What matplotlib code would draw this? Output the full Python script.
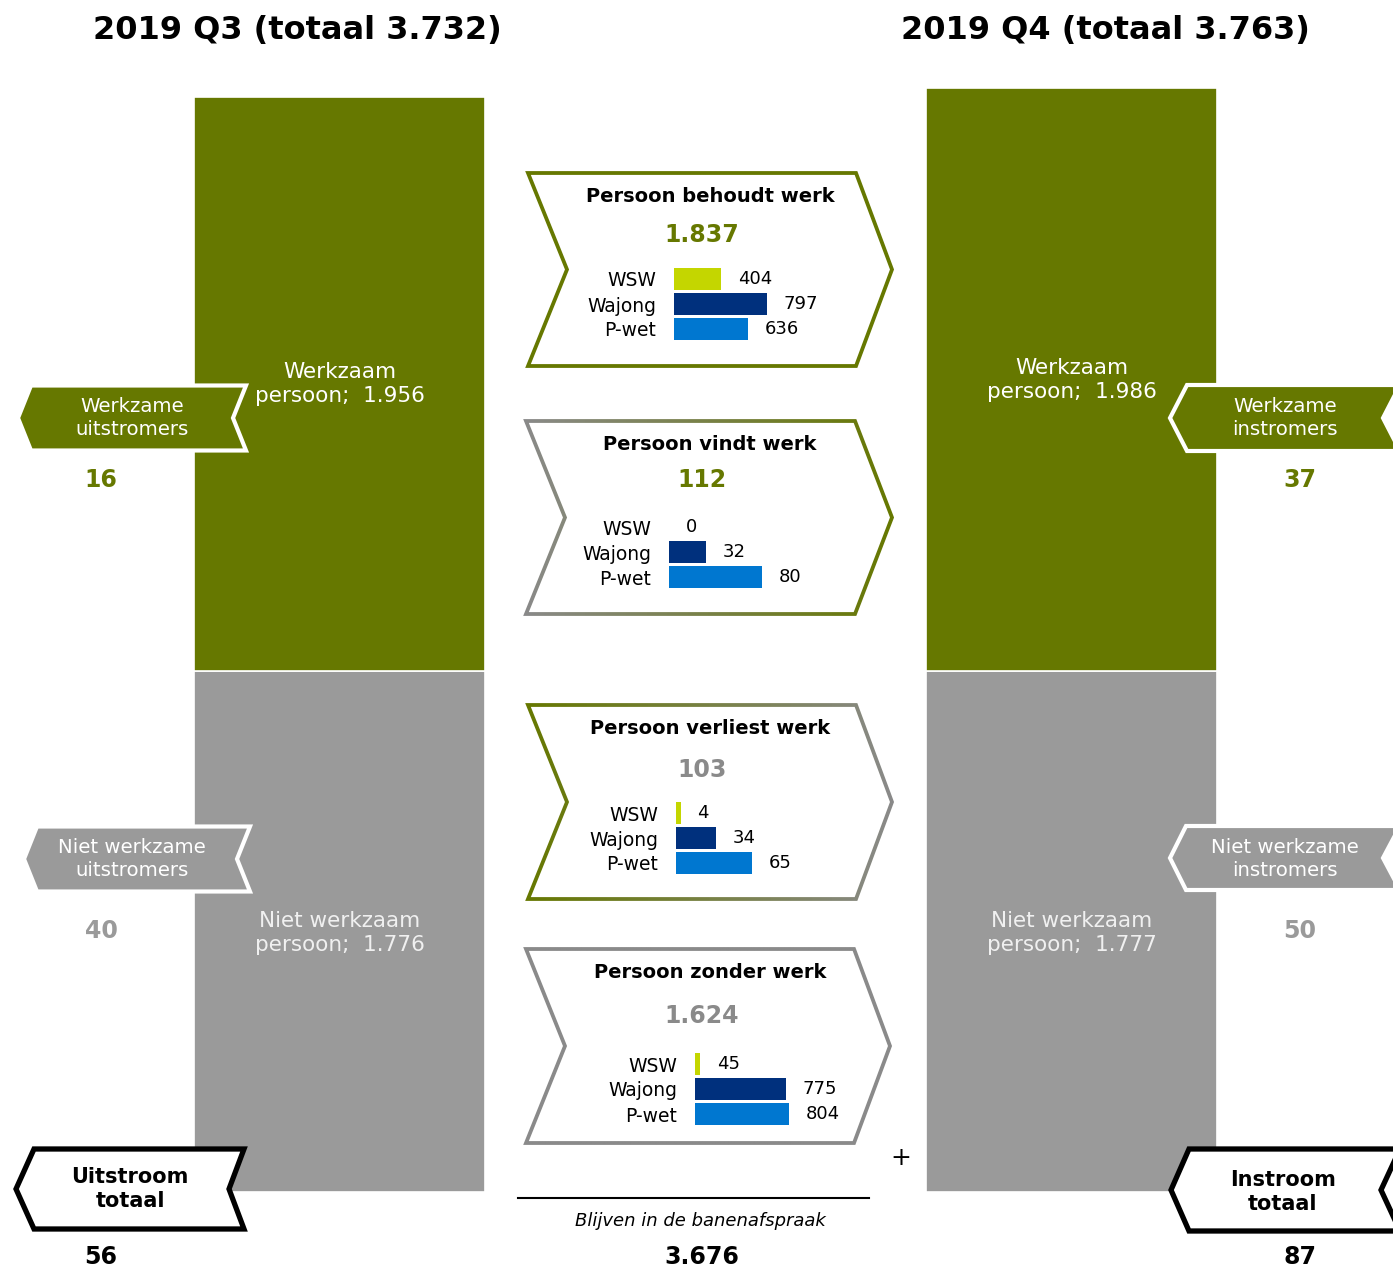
import numpy as np
import matplotlib.pyplot as plt
from matplotlib.patches import Polygon, PathPatch
from matplotlib.path import Path
from matplotlib.colors import LinearSegmentedColormap

# ---- data ----
quarters = ['2019 Q3', '2019 Q4']
totals = [3732, 3763]
werkzaam = [1956, 1986]
niet_werkzaam = [1776, 1777]

flow_titles = ['Persoon behoudt werk', 'Persoon vindt werk',
               'Persoon verliest werk', 'Persoon zonder werk']
flow_totals = [1837, 112, 103, 1624]
regelingen = ['WSW', 'Wajong', 'P-wet']
behoudt = [404, 797, 636]
vindt = [0, 32, 80]
verliest = [4, 34, 65]
zonder = [45, 775, 804]
flow_values = [behoudt, vindt, verliest, zonder]

uit_labels = ['Werkzame\nuitstromers', 'Niet werkzame\nuitstromers']
uit_values = [16, 40]
in_labels = ['Werkzame\ninstromers', 'Niet werkzame\ninstromers']
in_values = [37, 50]
uitstroom_totaal = 56
instroom_totaal = 87
blijven = 3676

# ---- style ----
green = '#667800'
gray = '#9a9a9a'
gray_line = '#8a8a8a'
bar_colors = ['#c4d600', '#00307d', '#0077d0']

W, H = 1393, 1269


def nl(v):
    return f"{v:,}".replace(',', '.')


def offset_poly(pts, d):
    P = np.array(pts, float)
    n = len(P)
    area = 0.5 * np.sum(P[:, 0] * np.roll(P[:, 1], -1) - np.roll(P[:, 0], -1) * P[:, 1])
    s = 1 if area > 0 else -1
    out = []
    for i in range(n):
        p0, p1, p2 = P[i - 1], P[i], P[(i + 1) % n]
        e1, e2 = p1 - p0, p2 - p1
        n1 = s * np.array([e1[1], -e1[0]]) / np.hypot(*e1)
        n2 = s * np.array([e2[1], -e2[0]]) / np.hypot(*e2)
        A = np.array([e1, -e2]).T
        t = np.linalg.solve(A, (p1 + n2 * d) - (p0 + n1 * d))[0]
        out.append(p0 + n1 * d + t * e1)
    return np.array(out)


def grad_outline(ax, pts, c0, c1, width):
    outer = offset_poly(pts, width / 2)
    inner = offset_poly(pts, -width / 2)[::-1]
    verts = np.vstack([outer, outer[:1], inner, inner[:1]])
    codes = ([Path.MOVETO] + [Path.LINETO] * (len(outer) - 1) + [Path.CLOSEPOLY]) * 2
    ring = PathPatch(Path(verts, codes), transform=ax.transData, facecolor='none',
                     edgecolor='none')
    ax.add_patch(ring)
    x0, x1 = outer[:, 0].min(), outer[:, 0].max()
    y0, y1 = outer[:, 1].min(), outer[:, 1].max()
    cmap = LinearSegmentedColormap.from_list('edge', [c0, c1])
    im = ax.imshow(np.linspace(0, 1, 256).reshape(1, -1), cmap=cmap, aspect='auto',
                   extent=(x0, x1, y1, y0), interpolation='bilinear', zorder=3)
    im.set_clip_path(ring)


def side_arrow(ax, tip, body, right, notch, yc, half, face, edge, lw):
    pts = [(tip, yc), (body, yc - half), (right, yc - half), (notch, yc),
           (right, yc + half), (body, yc + half)]
    ax.add_patch(Polygon(pts, closed=True, facecolor=face, edgecolor=edge,
                         linewidth=lw, joinstyle='miter', zorder=2))


fig = plt.figure(figsize=(W / 100, H / 100), dpi=100)

# ---- big stacked bars ----
base = 1192
scale = 0.2934
axb = fig.add_axes([0, (H - base) / H, 1, base / H])
axb.set_xlim(0, W)
axb.set_ylim(0, base / scale)
axb.axis('off')
x_q = [339.5, 1071.5]
axb.bar(x_q, niet_werkzaam, width=291, color=gray, edgecolor='white', linewidth=1.2)
axb.bar(x_q, werkzaam, bottom=niet_werkzaam, width=291, color=green,
        edgecolor='white', linewidth=1.2)

# ---- overlay in pixel coordinates ----
ax = fig.add_axes([0, 0, 1, 1], zorder=2)
ax.axis('off')

# titles
for q, tot, xc in zip(quarters, totals, [297, 1105]):
    ax.text(xc, 30, f'{q} (totaal {nl(tot)})', ha='center', va='center',
            fontsize=23, fontweight='bold')

# text inside big bars
for xc, w, nw, yw in zip(x_q, werkzaam, niet_werkzaam, [384, 380]):
    ax.text(xc, yw, f'Werkzaam\npersoon;  {nl(w)}', ha='center', va='center',
            fontsize=15.5, color='white', linespacing=1.3)
    ax.text(xc, 933, f'Niet werkzaam\npersoon;  {nl(nw)}', ha='center', va='center',
            fontsize=15.5, color='#f0f0f0', linespacing=1.3)

# side arrows
side_arrow(ax, 18, 31, 246, 233, 418, 32.5, green, 'white', 3)
side_arrow(ax, 24, 37, 250, 237, 859, 32.5, gray, 'white', 3)
side_arrow(ax, 1170, 1187, 1400, 1383, 418, 33, green, 'white', 3)
side_arrow(ax, 1170, 1186, 1400, 1383, 858, 32, gray, 'white', 3)
side_arrow(ax, 16, 34, 244, 229, 1189, 40, 'white', 'black', 3.8)
side_arrow(ax, 1171, 1189, 1400, 1381, 1190, 41, 'white', 'black', 3.8)

for lab, v, yc, yv, c in zip(uit_labels, uit_values, [418, 859], [480, 931], [green, gray]):
    ax.text(132, yc, lab, ha='center', va='center', fontsize=14.2, color='white',
            linespacing=1.3, zorder=4)
    ax.text(101, yv, str(v), ha='center', va='center', fontsize=17,
            fontweight='bold', color=c)
for lab, v, yc, yv, c in zip(in_labels, in_values, [418, 859], [480, 931], [green, gray]):
    ax.text(1285, yc, lab, ha='center', va='center', fontsize=14.2, color='white',
            linespacing=1.3, zorder=4)
    ax.text(1300, yv, str(v), ha='center', va='center', fontsize=17,
            fontweight='bold', color=c)

ax.text(130, 1189, 'Uitstroom\ntotaal', ha='center', va='center', fontsize=15,
        fontweight='bold', linespacing=1.25, zorder=4)
ax.text(101, 1257, str(uitstroom_totaal), ha='center', va='center', fontsize=17,
        fontweight='bold')
ax.text(1283, 1192, 'Instroom\ntotaal', ha='center', va='center', fontsize=15,
        fontweight='bold', linespacing=1.25, zorder=4)
ax.text(1300, 1257, str(instroom_totaal), ha='center', va='center', fontsize=17,
        fontweight='bold')

# center chevrons
chev = [  # xl, xr, xtip, xnotch, yt, yb
    (528, 856, 892, 567, 173, 366),
    (526, 855, 892, 565, 421, 614),
    (528, 856, 892, 567, 705, 899),
    (526, 854, 890, 565, 949, 1143),
]
edge_cols = [(green, green), (gray_line, green), (green, gray_line), (gray_line, gray_line)]
title_y = [196, 444, 728, 972]
total_y = [235, 480, 770, 1016]
total_cols = [green, green, gray_line, gray_line]
bar_left = [674, 669, 676, 695]
bar_y0 = [279, 527, 813, 1064]
bar_len = [93, 93, 76, 94]

for i in range(4):
    xl, xr, xt, xn, yt, yb = chev[i]
    yc = (yt + yb) / 2
    pts = [(xl, yt), (xr, yt), (xt, yc), (xr, yb), (xl, yb), (xn, yc)]
    ax.add_patch(Polygon(pts, closed=True, facecolor='white', edgecolor='none', zorder=2))
    grad_outline(ax, pts, edge_cols[i][0], edge_cols[i][1], 3.8)
    ax.text(710, title_y[i], flow_titles[i], ha='center', va='center',
            fontsize=14, fontweight='bold', zorder=4)
    ax.text(702, total_y[i], nl(flow_totals[i]), ha='center', va='center',
            fontsize=17, fontweight='bold', color=total_cols[i], zorder=4)

    vals = flow_values[i]
    wpx = 110
    axi = fig.add_axes([bar_left[i] / W, 1 - (bar_y0[i] + 62.5) / H,
                        wpx / W, 75 / H], zorder=3)
    bars = axi.barh(range(3), vals, height=0.88, color=bar_colors)
    axi.set_xlim(0, max(vals) * wpx / bar_len[i])
    axi.set_ylim(2.5, -0.5)
    axi.set_yticks(range(3), regelingen, fontsize=13.5)
    axi.tick_params(axis='y', length=0, pad=13)
    axi.set_xticks([])
    for s in axi.spines.values():
        s.set_visible(False)
    axi.patch.set_alpha(0)
    axi.bar_label(bars, labels=[str(v) for v in vals], padding=12, fontsize=13)

# bottom summary
ax.text(901, 1158, '+', ha='center', va='center', fontsize=18)
ax.plot([518, 869], [1198, 1198], color='black', linewidth=1.5)
ax.text(700, 1221, 'Blijven in de banenafspraak', ha='center', va='center',
        fontsize=13, style='italic')
ax.text(702, 1257, nl(blijven), ha='center', va='center', fontsize=17,
        fontweight='bold')

ax.set_xlim(0, W)
ax.set_ylim(H, 0)

fig.savefig('out.png', dpi=100)
